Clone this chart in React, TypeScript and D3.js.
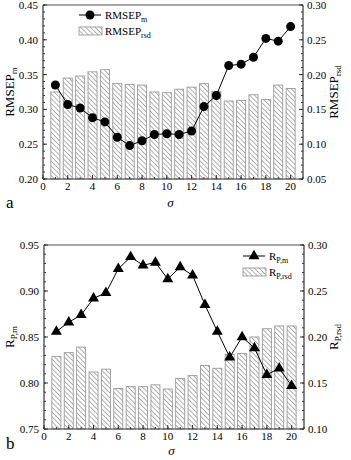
import React from "react";
import * as d3 from "d3";

const sigma = [1, 2, 3, 4, 5, 6, 7, 8, 9, 10, 11, 12, 13, 14, 15, 16, 17, 18, 19, 20];
const rmsepM = [0.335, 0.307, 0.302, 0.288, 0.282, 0.26, 0.248, 0.255, 0.264, 0.265, 0.264, 0.269, 0.304, 0.32, 0.363, 0.365, 0.375, 0.402, 0.398, 0.419];
const rmsepRsd = [0.175, 0.195, 0.198, 0.204, 0.207, 0.187, 0.186, 0.185, 0.175, 0.174, 0.179, 0.182, 0.187, 0.176, 0.162, 0.163, 0.171, 0.164, 0.185, 0.18];
const rpM = [0.856, 0.866, 0.874, 0.892, 0.898, 0.924, 0.937, 0.928, 0.931, 0.913, 0.926, 0.917, 0.885, 0.856, 0.828, 0.85, 0.838, 0.809, 0.816, 0.797];
const rpRsd = [0.179, 0.183, 0.189, 0.162, 0.165, 0.144, 0.146, 0.146, 0.148, 0.1435, 0.155, 0.158, 0.169, 0.166, 0.181, 0.182, 0.2, 0.209, 0.212, 0.212];

const xTicks = [0, 2, 4, 6, 8, 10, 12, 14, 16, 18, 20];
const aLeftTicks = [0.2, 0.25, 0.3, 0.35, 0.4, 0.45];
const aRightTicks = [0.05, 0.1, 0.15, 0.2, 0.25, 0.3];
const bLeftTicks = [0.75, 0.8, 0.85, 0.9, 0.95];
const bRightTicks = [0.1, 0.15, 0.2, 0.25, 0.3];

const FONT = "Liberation Serif, Times New Roman, serif";

type PanelProps = {
  left: number; right: number; top: number; bottom: number;
  line: number[]; bars: number[];
  lDom: [number, number]; rDom: [number, number];
  lTicks: number[]; rTicks: number[];
  marker: "circle" | "triangle";
  leftLabel: [string, string]; rightLabel: [string, string];
  legendX: number; legendY: number; letter: string;
  sigmaDy: number; letterDy: number;
};

function Panel(p: PanelProps) {
  const x = d3.scaleLinear().domain([0, 21]).range([p.left, p.right]);
  const yl = d3.scaleLinear().domain(p.lDom).range([p.bottom, p.top]);
  const yr = d3.scaleLinear().domain(p.rDom).range([p.bottom, p.top]);
  const bw = (x(1) - x(0)) * 0.73;
  const lineGen = d3.line<number>().x((_, i) => x(sigma[i])).y((d) => yl(d));
  const tri = d3.symbol().type(d3.symbolTriangle).size(52)();
  const fmt = d3.format(".2f");
  const lMinor = d3.range(Math.round(p.lDom[0] * 100), Math.round(p.lDom[1] * 100) + 1).map((v) => v / 100);
  const rMinor = d3.range(Math.round(p.rDom[0] * 100), Math.round(p.rDom[1] * 100) + 1).map((v) => v / 100);
  const xMinor = d3.range(0, 22);
  const axisCol = "#333";
  const midY = (p.top + p.bottom) / 2;
  const mk = (cx: number, cy: number, k: string) =>
    p.marker === "circle" ? (
      <circle key={k} cx={cx} cy={cy} r={4.5} fill="#000" />
    ) : (
      <path key={k} d={tri || ""} transform={`translate(${cx},${cy})`} fill="#000" />
    );
  const lx = p.legendX, ly = p.legendY;
  return (
    <g fontFamily={FONT}>
      {p.bars.map((v, i) => (
        <rect key={"b" + i} x={x(sigma[i]) - bw / 2} y={yr(v)} width={bw} height={p.bottom - yr(v)}
          fill="url(#hatch)" stroke="#999" strokeWidth={0.9} />
      ))}
      <path d={lineGen(p.line) || ""} fill="none" stroke="#000" strokeWidth={1} />
      {p.line.map((v, i) => mk(x(sigma[i]), yl(v), "m" + i))}
      {/* frame */}
      <line x1={p.left} x2={p.right} y1={p.top} y2={p.top} stroke="#888" strokeWidth={1.5} />
      <line x1={p.left} x2={p.right} y1={p.bottom} y2={p.bottom} stroke={axisCol} strokeWidth={1.2} />
      <line x1={p.left} x2={p.left} y1={p.top} y2={p.bottom} stroke={axisCol} strokeWidth={1.2} />
      <line x1={p.right} x2={p.right} y1={p.top} y2={p.bottom} stroke={axisCol} strokeWidth={1.2} />
      {/* minor ticks */}
      {lMinor.map((v, i) => (
        <line key={"lm" + i} x1={p.left} x2={p.left + 2} y1={yl(v)} y2={yl(v)} stroke={axisCol} />
      ))}
      {rMinor.map((v, i) => (
        <line key={"rm" + i} x1={p.right} x2={p.right - 2} y1={yr(v)} y2={yr(v)} stroke={axisCol} />
      ))}
      {xMinor.map((v, i) => (
        <line key={"xm" + i} x1={x(v)} x2={x(v)} y1={p.bottom} y2={p.bottom - 2} stroke={axisCol} />
      ))}
      {/* major ticks + labels */}
      {p.lTicks.map((v, i) => (
        <g key={"lt" + i}>
          <line x1={p.left} x2={p.left + 4} y1={yl(v)} y2={yl(v)} stroke={axisCol} />
          <text x={p.left - 5} y={yl(v) + 4} textAnchor="end" fontSize={11}>{fmt(v)}</text>
        </g>
      ))}
      {p.rTicks.map((v, i) => (
        <g key={"rt" + i}>
          <line x1={p.right} x2={p.right - 4} y1={yr(v)} y2={yr(v)} stroke={axisCol} />
          <text x={p.right + 4} y={yr(v) + 4} textAnchor="start" fontSize={11}>{fmt(v)}</text>
        </g>
      ))}
      {xTicks.map((v, i) => (
        <g key={"xt" + i}>
          <line x1={x(v)} x2={x(v)} y1={p.bottom} y2={p.bottom - 4} stroke={axisCol} />
          <text x={x(v)} y={p.bottom + 11} textAnchor="middle" fontSize={11}>{v}</text>
        </g>
      ))}
      {/* axis titles */}
      <text transform={`translate(14,${midY}) rotate(-90)`} textAnchor="middle" fontSize={13}>
        {p.leftLabel[0]}<tspan fontSize={9} dy={3}>{p.leftLabel[1]}</tspan>
      </text>
      <text transform={`translate(338,${midY}) rotate(-90)`} textAnchor="middle" fontSize={13}>
        {p.rightLabel[0]}<tspan fontSize={9} dy={3}>{p.rightLabel[1]}</tspan>
      </text>
      <text x={x(10.3)} y={p.bottom + p.sigmaDy} textAnchor="middle" fontSize={13} fontStyle="italic">σ</text>
      <text x={6} y={p.bottom + p.letterDy} fontSize={17}>{p.letter}</text>
      {/* legend */}
      <line x1={lx} x2={lx + 22} y1={ly} y2={ly} stroke="#000" />
      {mk(lx + 11, ly, "leg")}
      <text x={lx + 26} y={ly + 4} fontSize={11}>
        {p.leftLabel[0]}<tspan fontSize={8} dy={3}>{p.leftLabel[1]}</tspan>
      </text>
      <rect x={lx} y={ly + 12} width={23} height={8} fill="url(#hatch)" stroke="#999" strokeWidth={0.9} />
      <text x={lx + 26} y={ly + 20} fontSize={11}>
        {p.rightLabel[0]}<tspan fontSize={8} dy={3}>{p.rightLabel[1]}</tspan>
      </text>
    </g>
  );
}

export default function App() {
  return (
    <div style={{ position: "absolute", left: 0, top: 0 }}>
      <svg width={351} height={460} style={{ display: "block", background: "#fff" }}>
        <defs>
          <pattern id="hatch" patternUnits="userSpaceOnUse" width={3.4} height={3.4} patternTransform="rotate(-45)">
            <rect width={3.4} height={3.4} fill="#fff" />
            <line x1={0} y1={0} x2={0} y2={3.4} stroke="#666" strokeWidth={1} />
          </pattern>
        </defs>
        <Panel left={43} right={303} top={5} bottom={179} line={rmsepM} bars={rmsepRsd}
          lDom={[0.2, 0.45]} rDom={[0.05, 0.3]} lTicks={aLeftTicks} rTicks={aRightTicks}
          marker="circle" leftLabel={["RMSEP", "m"]} rightLabel={["RMSEP", "rsd"]}
          legendX={79} legendY={15} letter="a" sigmaDy={28} letterDy={29} />
        <Panel left={44} right={304} top={245} bottom={429} line={rpM} bars={rpRsd}
          lDom={[0.75, 0.95]} rDom={[0.1, 0.3]} lTicks={bLeftTicks} rTicks={bRightTicks}
          marker="triangle" leftLabel={["R", "P,m"]} rightLabel={["R", "P,rsd"]}
          legendX={243} legendY={256} letter="b" sigmaDy={26} letterDy={20} />
      </svg>
    </div>
  );
}
